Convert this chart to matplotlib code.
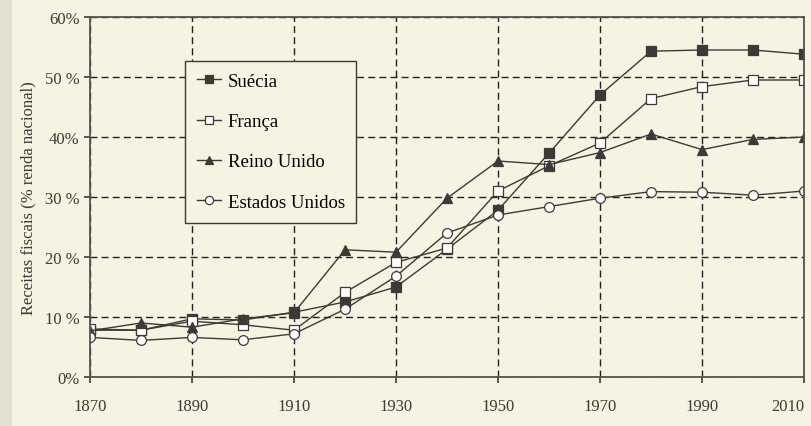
import numpy as np
import matplotlib.pyplot as plt

years = [1870, 1880, 1890, 1900, 1910, 1920, 1930, 1940, 1950, 1960, 1970, 1980, 1990, 2000, 2010]

suecia = [7.8, 7.8, 9.7, 9.5, 10.8, 12.5, 15.0, 21.3, 27.8, 37.3, 47.0, 54.3, 54.5, 54.5, 53.8]
franca = [8.0, 7.8, 9.3, 8.7, 7.8, 14.1, 19.1, 21.5, 31.0, 35.2, 39.0, 46.4, 48.4, 49.5, 49.5]
reino_unido = [7.7, 9.0, 8.3, 9.7, 10.7, 21.2, 20.8, 29.8, 36.0, 35.4, 37.4, 40.5, 37.9, 39.6, 40.0]
estados_unidos = [6.6, 6.1, 6.6, 6.2, 7.2, 11.3, 16.8, 24.0, 27.0, 28.4, 29.8, 30.9, 30.8, 30.3, 31.0]

xticks = [1870, 1890, 1910, 1930, 1950, 1970, 1990, 2010]
yticks = [0, 10, 20, 30, 40, 50, 60]
ylabels = ['0%', '10 %', '20 %', '30 %', '40%', '50 %', '60%']

bg = '#f6f3e2'
ink = '#3c3a36'
plt.rcParams['font.family'] = ['Liberation Serif', 'DejaVu Serif']

fig = plt.figure(figsize=(8.11, 4.27), dpi=100, facecolor=bg)
ax = fig.add_axes([90/811, 1 - 378/427, 714/811, 360/427])
ax.set_facecolor(bg)

# scan edge on the left
fig.patches.append(plt.Rectangle((0, 0), 12/811, 1, transform=fig.transFigure,
                                 facecolor='#e4e0cf', edgecolor='none', zorder=0))

style = dict(color=ink, linewidth=1.0, markersize=7, markeredgecolor=ink, markeredgewidth=0.9)
ax.plot(years, suecia, marker='s', markerfacecolor=ink, label='Suécia', **style)
ax.plot(years, franca, marker='s', markerfacecolor='white', label='França', **style)
ax.plot(years, reino_unido, marker='^', markerfacecolor=ink, label='Reino Unido', **style)
ax.plot(years, estados_unidos, marker='o', markerfacecolor='white', label='Estados Unidos', **style)

ax.set_xlim(1870, 2010)
ax.set_ylim(0, 60)
ax.set_xticks(xticks)
ax.set_yticks(yticks)
ax.set_yticklabels(ylabels)
ax.grid(True, color='#222222', linestyle=(0, (5, 3)), linewidth=1.0)
ax.tick_params(colors=ink, labelsize=12, direction='out', length=4, width=1.2)
ax.tick_params(axis='x', pad=11)
ax.get_xticklabels()[-1].set_horizontalalignment('right')
for s in ax.spines.values():
    s.set_color('#555350')
    s.set_linewidth(1.3)

ax.set_ylabel('Receitas fiscais (% renda nacional)', fontsize=12, color=ink, labelpad=6)

leg = ax.legend(loc='upper left', bbox_to_anchor=(95/714, 1 - 44/360), frameon=True,
                fancybox=False, fontsize=13.5, handlelength=1.3, handletextpad=0.35,
                labelspacing=1.24, borderpad=0.62, markerscale=0.85, borderaxespad=0)
leg.get_frame().set_facecolor(bg)
leg.get_frame().set_edgecolor(ink)
leg.get_frame().set_linewidth(1.0)
leg.get_frame().set_alpha(1)

fig.savefig('out.png', dpi=100, facecolor=bg)
